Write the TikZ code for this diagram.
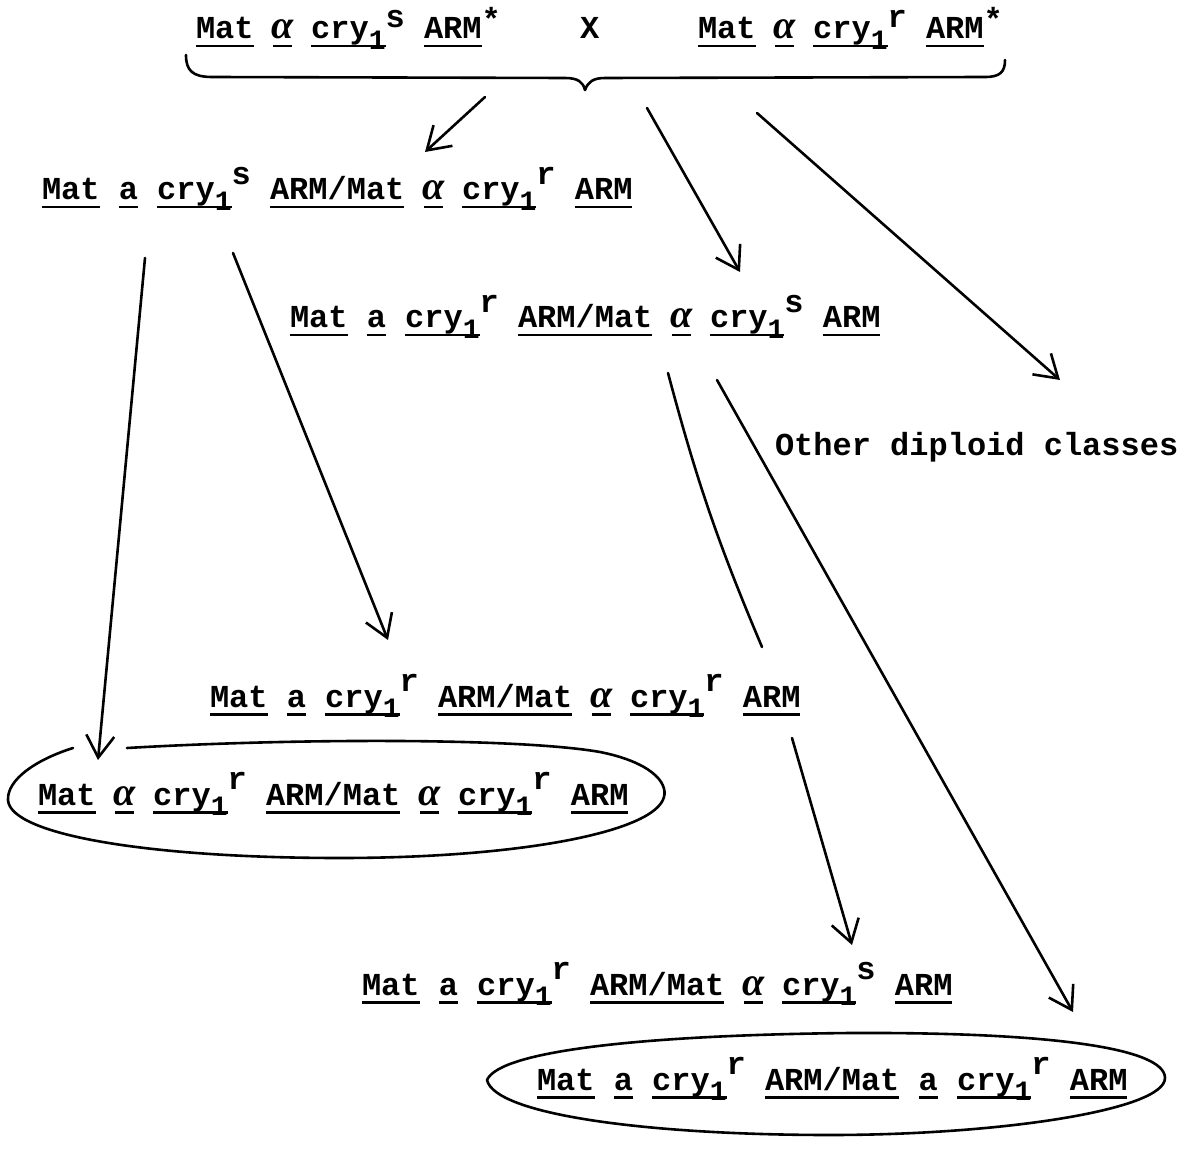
\documentclass[tikz,border=0pt]{standalone}
\usepackage{fontspec}
\setmainfont{Liberation Mono}
\newfontfamily\grkfont{Liberation Serif}[Scale=1.25]
\usetikzlibrary{arrows.meta}

% underlined word, rule at a fixed depth below the baseline
\newsavebox\ulbox
\newcommand\ul[1]{\sbox\ulbox{#1}\rlap{\rule[-8.5pt]{\wd\ulbox}{2.4pt}}\usebox\ulbox}
% typed sub- and superscripts
\newcommand\lo[1]{\raisebox{-0.32em}{\fontsize{28}{30}\selectfont #1}}
\newcommand\hi[2][0.48em]{\raisebox{#1}{#2}}
% the alpha mating-type sign
\newcommand\al{\makebox[0.6em]{\grkfont\itshape α}}

\begin{document}
\begin{tikzpicture}[x=1pt,y=1pt,
  line width=2.6pt, line cap=round, line join=round,
  txt/.style={anchor=base west, inner sep=0pt, outer sep=0pt,
    font=\fontsize{32}{38}\selectfont\bfseries},
  arr/.style={-{Straight Barb[length=22pt,width=28pt]}}]

\useasboundingbox (0,0) rectangle (1187,-1150);
\fill[white] (0,0) rectangle (1187,-1150);

% parents of the cross
\node[txt] (p1) at (196,-39) {\ul{Mat} \ul{\al} \ul{cry\lo{1}}\hi[0.36em]{s} \ul{ARM}\hi[0.26em]{*}};
\node[txt] (px) at (580,-39) {X};
\node[txt] (p2) at (698,-39) {\ul{Mat} \ul{\al} \ul{cry\lo{1}}\hi[0.36em]{r} \ul{ARM}\hi[0.26em]{*}};

% brace gathering both parents
\draw (186,-55) .. controls (186,-70) and (192,-77) .. (212,-77) -- (565,-78)
      .. controls (578,-78) and (583,-82) .. (585,-90)
      .. controls (588,-82) and (593,-78) .. (605,-78) -- (985,-77)
      .. controls (1000,-77) and (1005,-72) .. (1005,-60);

% diploid classes
\node[txt] (c1) at (42,-200) {\ul{Mat} \ul{a} \ul{cry\lo{1}}\hi{s} \ul{ARM/Mat} \ul{\al} \ul{cry\lo{1}}\hi{r} \ul{ARM}};
\node[txt] (c2) at (290,-328) {\ul{Mat} \ul{a} \ul{cry\lo{1}}\hi{r} \ul{ARM/Mat} \ul{\al} \ul{cry\lo{1}}\hi{s} \ul{ARM}};
\node[txt] (oth) at (775,-455) {Other diploid classes};
\node[txt] (c3) at (210,-707) {\ul{Mat} \ul{a} \ul{cry\lo{1}}\hi{r} \ul{ARM/Mat} \ul{\al} \ul{cry\lo{1}}\hi{r} \ul{ARM}};
\node[txt] (e1t) at (38,-805) {\ul{Mat} \ul{\al} \ul{cry\lo{1}}\hi{r} \ul{ARM/Mat} \ul{\al} \ul{cry\lo{1}}\hi{r} \ul{ARM}};
\node[txt] (c4) at (362,-995) {\ul{Mat} \ul{a} \ul{cry\lo{1}}\hi{r} \ul{ARM/Mat} \ul{\al} \ul{cry\lo{1}}\hi{s} \ul{ARM}};
\node[txt] (e2t) at (537,-1090) {\ul{Mat} \ul{a} \ul{cry\lo{1}}\hi{r} \ul{ARM/Mat} \ul{a} \ul{cry\lo{1}}\hi{r} \ul{ARM}};

% ring around the alpha homozygote (open where the arrow enters)
\draw (127,-748) .. controls (300,-738) and (520,-738) .. (600,-752)
      .. controls (650,-762) and (668,-782) .. (664,-797)
      .. controls (655,-832) and (520,-858) .. (340,-858)
      .. controls (150,-858) and (10,-835) .. (8,-800)
      .. controls (7,-780) and (35,-760) .. (73,-748);
% ring around the a homozygote
\draw (487,-1080) .. controls (500,-1050) and (650,-1035) .. (850,-1033)
      .. controls (1050,-1032) and (1165,-1048) .. (1165,-1078)
      .. controls (1165,-1110) and (1000,-1135) .. (830,-1135)
      .. controls (650,-1135) and (495,-1115) .. (487,-1080);

% ends of the connectors
\coordinate (b1) at (485,-97);
\coordinate (b2) at (647,-108);
\coordinate (b3) at (757,-113);
\coordinate (c1in) at (425,-152);
\coordinate (c2in) at (740,-272);
\coordinate (othin) at (1060,-380);
\coordinate (c1outL) at (145,-258);
\coordinate (c1outR) at (233,-253);
\coordinate (e1in) at (98,-760);
\coordinate (c3in) at (388,-640);
\coordinate (c2outL) at (668,-373);
\coordinate (c3touch) at (762,-647);
\coordinate (c2outR) at (717,-380);
\coordinate (e2in) at (1073,-1012);
\coordinate (c3out) at (792,-738);
\coordinate (c4in) at (852,-945);

\draw[arr] (b1) -- (c1in);
\draw[arr] (b2) -- (c2in);
\draw[arr] (b3) -- (othin);
\draw[arr] (c1outL) -- (e1in);
\draw[arr] (c1outR) -- (c3in);
\draw (c2outL) to[bend right=4] (c3touch);
\draw[arr] (c2outR) -- (e2in);
\draw[arr] (c3out) -- (c4in);
\end{tikzpicture}
\end{document}
